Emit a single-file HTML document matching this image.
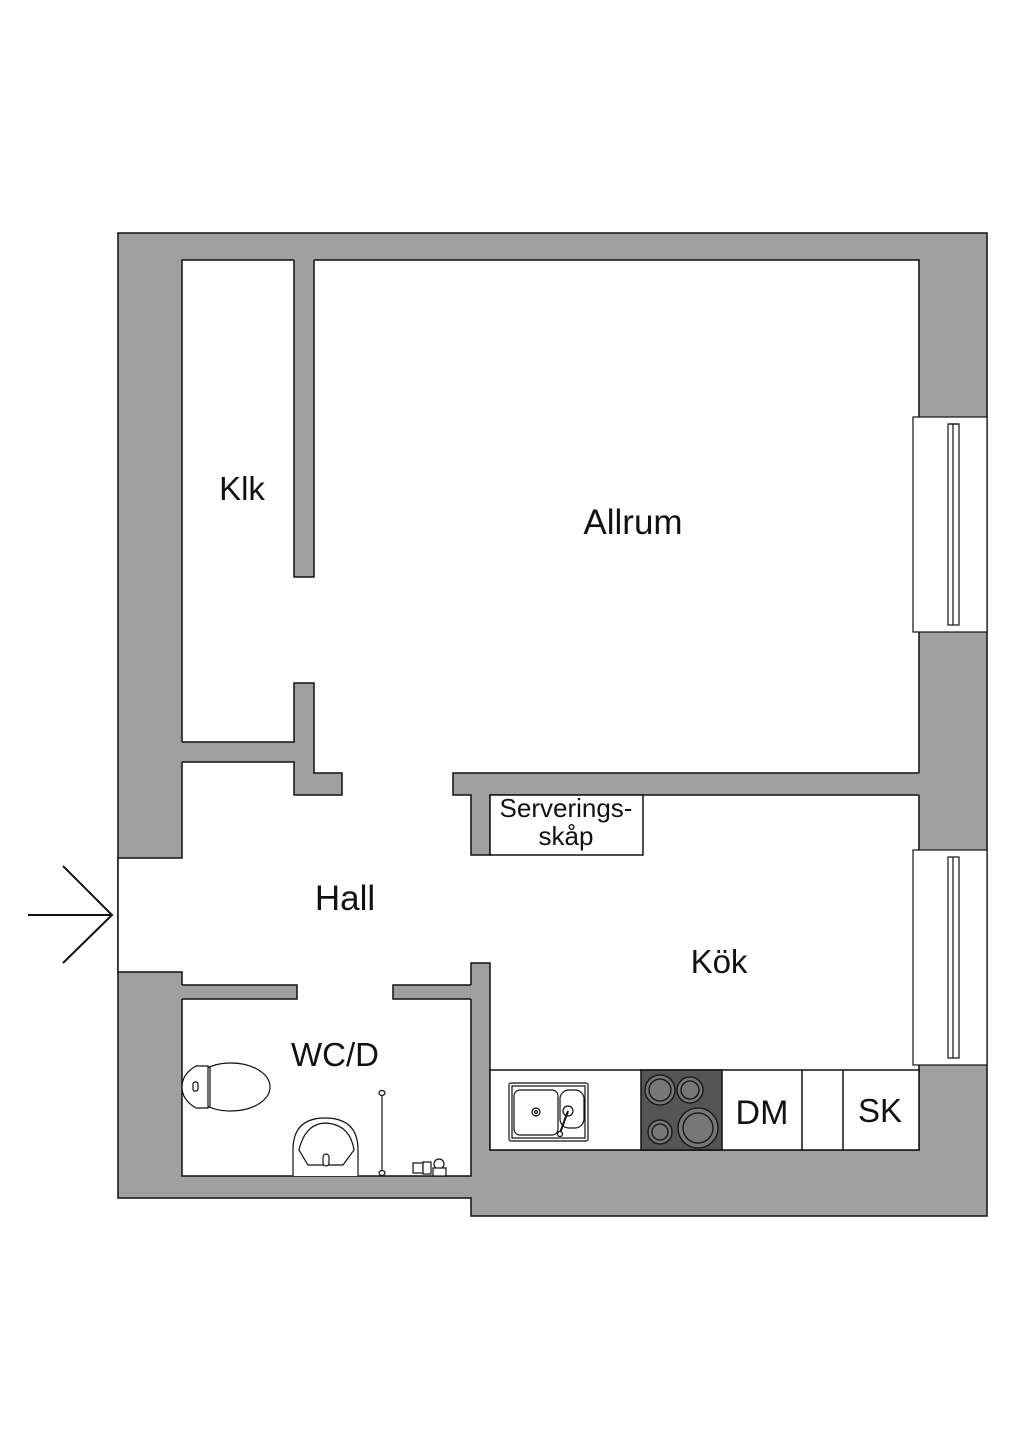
<!DOCTYPE html>
<html><head><style>html,body{margin:0;padding:0;background:#fff}svg{display:block}</style></head>
<body>
<svg width="1024" height="1448" viewBox="0 0 1024 1448" xmlns="http://www.w3.org/2000/svg" font-family="Liberation Sans, sans-serif">
<g stroke="#111" stroke-width="1.5" stroke-linejoin="miter">
<polygon points="118,233 987,233 987,1216 471,1216 471,1198 118,1198" fill="#a0a0a0"/>
<polygon points="182,260 919,260 919,1150 490,1150 490,963 471,963 471,1176 182,1176 182,972 118,972 118,858 182,858" fill="#fff"/>
</g>
<g fill="#a0a0a0" stroke="none">
<rect x="294" y="258" width="20" height="319"/>
<polygon points="181,742 294,742 294,683 314,683 314,773 342,773 342,795 294,795 294,762 181,762"/>
<polygon points="921,773 453,773 453,795 471,795 471,855 490,855 490,795 921,795"/>
<rect x="181" y="985" width="116" height="14"/>
<rect x="393" y="985" width="79" height="14"/>
</g>
<g fill="none" stroke="#111" stroke-width="1.5">
<polyline points="294,260 294,577 314,577 314,260"/>
<polyline points="182,742 294,742 294,683 314,683 314,773 342,773 342,795 294,795 294,762 182,762"/>
<polyline points="919,773 453,773 453,795 471,795 471,855 490,855 490,795 919,795"/>
<polyline points="182,985 297,985 297,999 182,999"/>
<polyline points="471,985 393,985 393,999 471,999"/>
<polyline points="63,866 112,915 63,963" stroke-width="2"/>
<line x1="28" y1="915" x2="112" y2="915" stroke-width="2"/>
</g>
<g stroke="#111" stroke-width="1.2" fill="#fff">
<rect x="913" y="417" width="74" height="215"/>
<rect x="948" y="424" width="11" height="201"/>
<line x1="953" y1="424" x2="953" y2="625"/>
<line x1="948" y1="424" x2="959" y2="424"/>
<rect x="913" y="850" width="74" height="215"/>
<rect x="948" y="857" width="11" height="201"/>
<line x1="953" y1="857" x2="953" y2="1058"/>
</g>
<rect x="490" y="795" width="153" height="60" fill="#fff" stroke="#111" stroke-width="1.5"/>
<g stroke="#111" stroke-width="1.5">
<rect x="490" y="1070" width="429" height="80" fill="#fff"/>
<rect x="641" y="1070" width="81" height="80" fill="#555"/>
<line x1="802" y1="1070" x2="802" y2="1150"/>
<line x1="843" y1="1070" x2="843" y2="1150"/>
</g>
<g stroke="#111" stroke-width="1.3" fill="#777">
<circle cx="660" cy="1090" r="15"/><circle cx="660" cy="1090" r="11"/>
<circle cx="690" cy="1090" r="13"/><circle cx="690" cy="1090" r="9"/>
<circle cx="660" cy="1132" r="12"/><circle cx="660" cy="1132" r="8"/>
<circle cx="698" cy="1128" r="20"/><circle cx="698" cy="1128" r="15"/>
</g>
<g stroke="#111" stroke-width="1.2" fill="#fff">
<rect x="509" y="1083" width="79" height="58" rx="2"/>
<rect x="512" y="1086" width="73" height="52"/>
<rect x="514" y="1090" width="44" height="45" rx="6"/>
<rect x="560" y="1090" width="24" height="38" rx="9"/>
<circle cx="536" cy="1112" r="4"/><circle cx="536" cy="1112" r="1.5"/>
<circle cx="568" cy="1111" r="5"/>
<line x1="568" y1="1111" x2="560" y2="1133" stroke-width="2"/>
<circle cx="560" cy="1134" r="2.5"/>
</g>
<g stroke="#111" stroke-width="1.2" fill="#fff">
<ellipse cx="231" cy="1087" rx="39" ry="24"/>
<path d="M208,1066 L208,1108 L196,1108 Q182,1100 182,1087 Q182,1074 196,1066 Z"/>
<line x1="210" y1="1066" x2="210" y2="1108"/>
<rect x="193" y="1082" width="5" height="9" rx="2"/>
<path d="M293,1176 L293,1150 Q293,1118 325,1118 Q358,1118 358,1150 L358,1176"/>
<path d="M299,1150 Q305,1124 325,1123 Q350,1124 354,1150 L343,1165 L308,1165 Z"/>
<rect x="323" y="1154" width="6" height="12" rx="3"/>
<line x1="382" y1="1093" x2="382" y2="1173"/>
<ellipse cx="382" cy="1093" rx="3" ry="2.5"/>
<ellipse cx="382" cy="1173" rx="3" ry="2.5"/>
<rect x="413" y="1163" width="10" height="10"/>
<rect x="423" y="1162" width="8" height="12"/>
<circle cx="439" cy="1164" r="5"/>
<rect x="433" y="1168" width="13" height="8"/>
</g>
<g fill="#111" text-anchor="middle" font-size="33">
<text x="242" y="500">Klk</text>
<text x="633" y="534" font-size="35">Allrum</text>
<text x="345" y="910" font-size="35">Hall</text>
<text x="719" y="973">Kök</text>
<text x="335" y="1066">WC/D</text>
<text x="762" y="1124" font-size="34">DM</text>
<text x="880" y="1122">SK</text>
<text x="566" y="817" font-size="26">Serverings-</text>
<text x="566" y="845" font-size="26">skåp</text>
</g>
</svg>
</body></html>
